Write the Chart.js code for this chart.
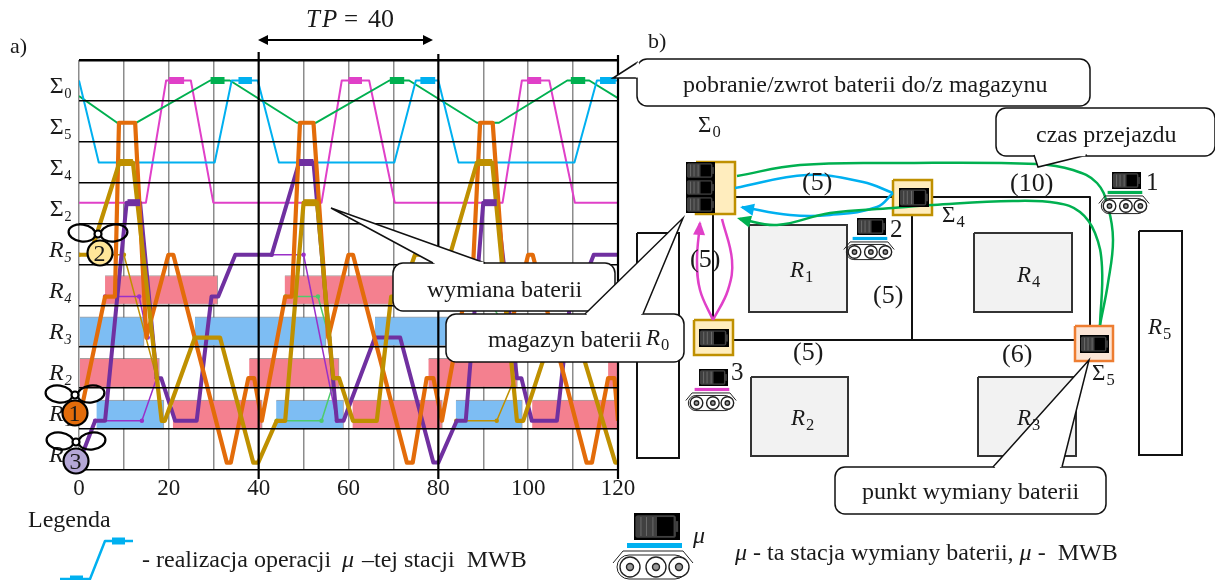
<!DOCTYPE html>
<html>
<head>
<meta charset="utf-8">
<script src="https://cdn.jsdelivr.net/npm/chart.js@4"></script>
<style>
  html, body { margin: 0; background: #fff; }
  #wrap { position: relative; width: 1215px; height: 580px; overflow: hidden; }
  canvas { position: absolute; left: 0; top: 0; }
</style>
</head>
<body>
<div id="wrap">
  <canvas id="mapChart" width="1215" height="580"></canvas>
  <canvas id="timeChart" width="1215" height="580"></canvas>
</div>
<script>
// row levels on the y axis of panel a)
const S0 = 9.5, S5 = 8.47, S4 = 7.5, S2 = 6.52, R5 = 5.25, R4 = 4.23, R3 = 3.23, R2 = 2.24, R1 = 1.2, R0 = 0.18;
const yLabels = ['R₀', 'R₁', 'R₂', 'R₃', 'R₄', 'R₅', 'Σ₂', 'Σ₄', 'Σ₅', 'Σ₀', ''];

// machine occupancy [from, to]
const r4Pink = [[5.8, 30.9], [45.8, 70.9], [85.8, 110.9]];
const r3Blue = [[0, 14.5], [25.8, 55], [65.9, 95], [105.8, 120]];
const r2Pink = [[0, 17.9], [37.9, 57.9], [77.8, 97.6], [117.8, 120]];
const r1Blue = [[3.9, 18.9], [43.9, 58.9], [83.9, 98.7]];
const r1Pink = [[20.9, 40.8], [60.9, 80.9], [100.9, 120]];

// stations (thin lines in the upper rows)
const cyanPath = [[0, S0], [4.4, S4], [30.2, S4], [34, S0], [39.8, S0], [44.5, S4], [70.2, S4], [75, S0], [80, S0], [84.5, S4], [110.3, S4], [115.3, S0], [120, S0]];
const greenPath = [[0, 9.12], [8.5, S5], [12.8, S5], [29.2, S0], [33.6, S0], [48.5, S5], [52.8, S5], [69.1, S0], [73.5, S0], [88.6, S5], [93.5, S5], [108.7, S0], [113.6, S0], [120, 9.07]];
const pinkPath = [[0, S2], [14.9, S2], [19.4, S0], [24.9, S0], [29.9, S2], [54, S2], [58.5, S0], [64.6, S0], [70.3, S2], [94.3, S2], [98.6, S0], [104.7, S0], [110.4, S2], [120, S2]];
const cyanOps = [[35.5, 38.5], [76, 79.3], [116, 119.5]];
const greenOps = [[29.3, 32.4], [69.2, 72.4], [109.5, 112.7]];
const pinkOps = [[20, 23.4], [60, 63], [99.8, 102.9]];

// transport robots (thick lines)
const orangePath = [[0, R1], [5.8, R4], [8, R4], [8.9, S5], [12.5, S5], [15, R3], [19.9, R5], [21, R5], [32.9, R0], [33.8, R0], [37.7, R2], [39, R2], [40.7, R1], [45.9, R4], [47.4, R4], [49.2, S5], [52.2, S5], [55.5, R3], [60, R5], [61, R5], [73, R0], [74.3, R0], [77.4, R2], [78.9, R2], [80.8, R1], [85.9, R4], [87.4, R4], [89.3, S5], [92.1, S5], [95.5, R3], [100, R5], [101, R5], [113, R0], [114.2, R0], [117.8, R2], [119.2, R2], [120, R1]];
const purplePath = [[0, R0], [3.6, R1], [5.8, R1], [10.6, S2], [13.6, S2], [17.3, R2], [18.3, R2], [21.4, R1], [26.2, R1], [29.5, R4], [31, R4], [34.8, R5], [42.9, R5], [49, S4], [52.2, S4], [57.4, R1], [58.9, R1], [65.9, R3], [71.5, R3], [78.9, R0], [80, R0], [84.1, R1], [86.1, R1], [90, S2], [93, S2], [97.5, R2], [98.5, R2], [100.8, R1], [106.4, R1], [109.5, R4], [111, R4], [114.6, R5], [120, R5]];
const goldPath = [[0, R5], [2.5, R5], [9, S4], [12, S4], [18.4, R1], [19.1, R1], [25.8, R3], [31.4, R3], [38.8, R0], [39.9, R0], [44, R1], [45.9, R1], [50, S2], [53, S2], [56.6, R2], [57.9, R2], [61, R1], [66.3, R1], [69.5, R4], [71.5, R4], [74.8, R5], [82.6, R5], [88.6, S4], [92, S4], [97.5, R1], [98.9, R1], [105, R3], [111, R3], [119.4, R0], [120, R0]];
const goldOps = [[9, 12, S4], [50, 53, S2], [88.6, 92, S4]];
const purpleOps = [[10.8, 13.6, S2], [49, 52.2, S4], [90, 93, S2]];

// thin task lines between the machines
const thinPurple = [
  [[5.8, R4], [13.4, R4], [15.3, R3]],
  [[3.6, R1], [14, R1], [17.3, R2]],
  [[42.9, R5], [50, R5], [57.4, R1]]
];
const thinGreen = [
  [[46, R4], [53.2, R4], [55.7, R3]],
  [[44, R1], [54, R1], [57, R2]],
  [[86, R4], [91, R4], [96, R3]]
];
const thinGold = [
  [[0, R5], [10, R5], [17.3, R2]],
  [[84, R1], [93, R1], [97, R2]]
];

const xTicksEvery = 10;

// panel b), in picture units
const roomBoxes = [[749, 225, 847, 312], [751, 377, 848, 456], [978, 377, 1076, 456], [974, 233, 1072, 312]];
const emptyBoxes = [[637, 233, 679, 458], [1139, 231, 1182, 455]];
const stationBoxes = [[696, 162, 735, 214], [893, 180, 932, 215], [694, 320, 733, 355]];
const swapBox = [1075, 326, 1113, 361];
const trackLines = [
  [[735, 197], [1090, 197], [1090, 326]],
  [[713, 214], [713, 320]],
  [[733, 340], [1075, 340]],
  [[912, 197], [912, 340]]
];
const greenRoutes = [
  [[737, 176], [800, 165], [900, 163], [1037, 164], [1073, 170], [1097, 183], [1108, 207], [1113, 240], [1108, 283], [1100, 325]],
  [[1100, 325], [1102, 267], [1095, 233], [1080, 212], [1057, 203], [1013, 201], [933, 205], [893, 208], [830, 213], [777, 225], [740, 219]]
];
const cyanRoutes = [
  [[735, 188], [807, 175], [863, 182], [893, 193]],
  [[893, 193], [877, 207], [830, 215], [790, 215], [742, 207]]
];
const pinkRoutes = [
  [[713, 320], [700, 290], [697, 260], [700, 223]],
  [[722, 219], [732, 260], [728, 290], [713, 320]]
];
const legendRoute = [[60, 579], [90, 579], [105, 541], [133, 541]];
const legendOps = [[[70, 579], [83, 579]], [[112, 541], [125, 541]]];

const serif = '"Liberation Serif", serif';
const cyan = '#00B0F0', green = '#00B050', pink = '#E040C8';
const orange = '#E36C0A', purple = '#7030A0', gold = '#BF9000';

const pts = a => a.map(p => ({ x: p[0], y: p[1] }));
const line = (data, color, width, order, extra) => Object.assign({
  type: 'line', data: pts(data), borderColor: color, backgroundColor: color,
  borderWidth: width, order: order, pointRadius: 0, tension: 0,
  borderJoinStyle: 'round', fill: false
}, extra || {});
const bar = (spans, center, color) => ({
  type: 'bar', indexAxis: 'y', grouped: false, barThickness: 29, order: 60,
  data: spans.map(s => ({ y: center, x: s })),
  backgroundColor: color, borderColor: 'rgba(90,80,80,0.55)', borderWidth: 1
});
const box = (b, fillCol, stroke, width, order) => line(
  [[b[0], b[1]], [b[2], b[1]], [b[2], b[3]], [b[0], b[3]], [b[0], b[1]]], stroke, width, order,
  { fill: 'shape', backgroundColor: fillCol, borderJoinStyle: 'miter' });

// --- small drawing helpers for the pictograms and call-outs ---
function txt(ctx, s, x, y, size, style) {
  ctx.font = (style ? style + ' ' : '') + size + 'px ' + serif;
  ctx.fillStyle = '#1a1a1a';
  ctx.textAlign = 'left';
  ctx.textBaseline = 'alphabetic';
  ctx.fillText(s, x, y);
  return ctx.measureText(s).width;
}
function subTxt(ctx, main, sub, x, y, size) {
  const w = txt(ctx, main, x, y, size, main === 'Σ' ? '' : 'italic');
  txt(ctx, sub, x + w + 1, y + 5, size * 0.72);
}
function callout(ctx, x0, y0, x1, y1, r, tip, a, b) {
  ctx.save();
  ctx.fillStyle = '#fff';
  ctx.strokeStyle = '#111';
  ctx.lineWidth = 1.5;
  ctx.beginPath();
  ctx.roundRect(x0, y0, x1 - x0, y1 - y0, r);
  ctx.fill();
  ctx.stroke();
  ctx.beginPath();
  ctx.moveTo(a[0], a[1]);
  ctx.lineTo(tip[0], tip[1]);
  ctx.lineTo(b[0], b[1]);
  ctx.closePath();
  ctx.fill();
  ctx.beginPath();
  ctx.moveTo(a[0], a[1]);
  ctx.lineTo(tip[0], tip[1]);
  ctx.lineTo(b[0], b[1]);
  ctx.stroke();
  ctx.strokeStyle = '#fff';
  ctx.lineWidth = 2.5;
  ctx.beginPath();
  const dx = b[0] - a[0], dy = b[1] - a[1];
  ctx.moveTo(a[0] + dx * 0.03, a[1] + dy * 0.03);
  ctx.lineTo(b[0] - dx * 0.03, b[1] - dy * 0.03);
  ctx.stroke();
  ctx.restore();
}
function battery(ctx, x, y, w, h) {
  ctx.fillStyle = '#000';
  ctx.fillRect(x, y, w, h);
  ctx.fillStyle = '#404040';
  ctx.beginPath();
  ctx.roundRect(x + w * 0.03, y + h * 0.08, w * 0.88, h * 0.84, h * 0.1);
  ctx.fill();
  ctx.fillRect(x + w * 0.9, y + h * 0.3, w * 0.06, h * 0.4);
  ctx.fillStyle = '#000';
  ctx.fillRect(x + w * 0.5, y + h * 0.15, w * 0.36, h * 0.7);
  ctx.fillStyle = '#6a6a6a';
  [0.14, 0.26, 0.4].forEach(f => ctx.fillRect(x + w * f, y + h * 0.15, 1, h * 0.7));
}
function agv(ctx, ox, oy, s, color) {
  battery(ctx, ox - 19 * s, oy, 46 * s, 27 * s);
  ctx.fillStyle = color;
  ctx.fillRect(ox - 26 * s, oy + 30 * s, 55 * s, 5 * s);
  ctx.strokeStyle = '#222';
  ctx.lineWidth = 1;
  ctx.beginPath();
  ctx.roundRect(ox - 36 * s, oy + 42 * s, 70 * s, 24 * s, 12 * s);
  ctx.stroke();
  ctx.beginPath();
  ctx.moveTo(ox - 40 * s, oy + 50 * s);
  ctx.lineTo(ox - 30 * s, oy + 38 * s);
  ctx.lineTo(ox + 30 * s, oy + 38 * s);
  ctx.lineTo(ox + 40 * s, oy + 50 * s);
  ctx.stroke();
  [-23, 3, 26].forEach(dx => {
    ctx.fillStyle = '#fff';
    ctx.lineWidth = 1.4;
    ctx.beginPath();
    ctx.arc(ox + dx * s, oy + 54 * s, 10 * s, 0, Math.PI * 2);
    ctx.fill();
    ctx.stroke();
    ctx.fillStyle = '#999';
    ctx.beginPath();
    ctx.arc(ox + dx * s, oy + 54 * s, 3.5 * s, 0, Math.PI * 2);
    ctx.fill();
    ctx.stroke();
  });
}
function drone(ctx, cx, cy, hx, hy, color, label) {
  ctx.strokeStyle = '#000';
  ctx.lineWidth = 2.2;
  [[-16, 0.14], [16, -0.14]].forEach(p => {
    ctx.beginPath();
    ctx.ellipse(hx + p[0], hy - 1, 13.5, 8.5, p[1], 0, Math.PI * 2);
    ctx.stroke();
  });
  ctx.fillStyle = color;
  ctx.beginPath();
  ctx.arc(cx, cy, 12.5, 0, Math.PI * 2);
  ctx.fill();
  ctx.stroke();
  ctx.fillStyle = '#fff';
  ctx.beginPath();
  ctx.arc(hx, hy, 3.5, 0, Math.PI * 2);
  ctx.fill();
  ctx.stroke();
  txt(ctx, label, cx - 6.5, cy + 8, 24);
}
function arrowHead(ctx, tip, from, color, len, half) {
  const a = Math.atan2(tip[1] - from[1], tip[0] - from[0]);
  ctx.fillStyle = color;
  ctx.beginPath();
  ctx.moveTo(tip[0], tip[1]);
  ctx.lineTo(tip[0] - len * Math.cos(a) + half * Math.sin(a), tip[1] - len * Math.sin(a) - half * Math.cos(a));
  ctx.lineTo(tip[0] - len * Math.cos(a) - half * Math.sin(a), tip[1] - len * Math.sin(a) + half * Math.cos(a));
  ctx.closePath();
  ctx.fill();
}

// --- panel b) the layout of the cell, sits below panel a) canvas ---
const mapOverlay = {
  id: 'mapOverlay',
  afterDatasetsDraw(chart) {
    const ctx = chart.ctx;
    ctx.save();
    // arrows at the route ends
    arrowHead(ctx, [737, 218], [752, 222], green, 14, 6);
    arrowHead(ctx, [740, 207], [755, 210], cyan, 14, 6);
    arrowHead(ctx, [700, 221], [699, 236], pink, 14, 6);

    // batteries in the store and stations
    battery(ctx, 686, 162, 29, 17);
    battery(ctx, 686, 179, 29, 17);
    battery(ctx, 686, 196, 29, 17);
    battery(ctx, 899, 188, 30, 19);
    battery(ctx, 699, 329, 30, 18);
    battery(ctx, 1080, 335, 29, 18);

    agv(ctx, 1124, 172, 0.63, green);
    agv(ctx, 869, 218, 0.63, cyan);
    agv(ctx, 711, 369, 0.63, pink);
    agv(ctx, 653, 513, 1, cyan);

    txt(ctx, '1', 1146, 190, 25);
    txt(ctx, '2', 890, 237, 25);
    txt(ctx, '3', 731, 380, 25);
    txt(ctx, '(5)', 802, 190, 26);
    txt(ctx, '(10)', 1010, 191, 26);
    txt(ctx, '(5)', 690, 267, 26);
    txt(ctx, '(5)', 873, 303, 26);
    txt(ctx, '(5)', 793, 360, 26);
    txt(ctx, '(6)', 1002, 362, 26);

    subTxt(ctx, 'R', '1', 790, 277, 23);
    subTxt(ctx, 'R', '2', 791, 425, 23);
    subTxt(ctx, 'R', '4', 1017, 282, 23);
    subTxt(ctx, 'R', '5', 1148, 334, 23);
    subTxt(ctx, 'Σ', '0', 698, 132, 23);
    subTxt(ctx, 'Σ', '4', 942, 222, 23);
    subTxt(ctx, 'Σ', '5', 1092, 380, 23);

    txt(ctx, 'b)', 648, 48, 22);
    txt(ctx, 'μ', 693, 543, 24, 'italic');
    txt(ctx, 'Legenda', 28, 527, 24);
    txt(ctx, '- realizacja operacji', 142, 567, 24);
    txt(ctx, 'μ', 342, 567, 24, 'italic');
    txt(ctx, '–tej stacji  MWB', 362, 567, 24);
    let x = 735;
    x += txt(ctx, 'μ', x, 560, 24, 'italic');
    x += txt(ctx, ' - ta stacja wymiany baterii, ', x, 560, 24);
    x += txt(ctx, 'μ', x, 560, 24, 'italic');
    txt(ctx, ' -  MWB', x, 560, 24);
    ctx.restore();
  }
};

const mapDatasets = [
  ...roomBoxes.map(b => box(b, '#F2F2F2', '#333', 2, 30)),
  ...emptyBoxes.map(b => box(b, '#fff', '#111', 2, 30)),
  ...trackLines.map(t => line(t, '#111', 2, 28)),
  ...stationBoxes.map(b => box(b, '#FFEDBE', gold, 2.5, 26)),
  box(swapBox, '#FBE5D6', '#ED7D31', 2.5, 26),
  ...greenRoutes.map(r => line(r, green, 2.5, 10, { tension: 0.4 })),
  ...cyanRoutes.map(r => line(r, cyan, 2.5, 10, { tension: 0.4 })),
  ...pinkRoutes.map(r => line(r, pink, 2.5, 10, { tension: 0.4 })),
  line(legendRoute, cyan, 2.5, 10),
  ...legendOps.map(o => line(o, cyan, 7, 9))
];

new Chart(document.getElementById('mapChart'), {
  type: 'line',
  data: { datasets: mapDatasets },
  options: {
    responsive: false,
    animation: false,
    layout: { padding: 0 },
    plugins: { legend: { display: false }, tooltip: { enabled: false } },
    scales: {
      x: { type: 'linear', min: 0, max: 1215, display: false },
      y: { type: 'linear', min: 0, max: 580, reverse: true, display: false }
    }
  },
  plugins: [mapOverlay]
});

// --- panel a) the time chart, top canvas with the call-outs ---
const timeOverlay = {
  id: 'timeOverlay',
  afterDatasetsDraw(chart) {
    const ctx = chart.ctx;
    const xs = chart.scales.x;
    ctx.save();
    ctx.strokeStyle = '#000';
    ctx.lineWidth = 2.2;
    [[40, 52], [80, 54], [120, 55]].forEach(v => {
      ctx.beginPath();
      ctx.moveTo(xs.getPixelForValue(v[0]), v[1]);
      ctx.lineTo(xs.getPixelForValue(v[0]), 479);
      ctx.stroke();
    });
    ctx.restore();
  },
  afterDraw(chart) {
    const ctx = chart.ctx;
    ctx.save();
    drone(ctx, 75, 413, 75, 395, orange, '1');
    drone(ctx, 100, 253, 98, 234, '#FFE699', '2');
    drone(ctx, 76, 461, 76, 442, '#B4A7D6', '3');

    // period arrow
    ctx.strokeStyle = '#000';
    ctx.lineWidth = 2;
    ctx.beginPath();
    ctx.moveTo(262, 40);
    ctx.lineTo(428, 40);
    ctx.stroke();
    arrowHead(ctx, [258, 40], [268, 40], '#000', 10, 5);
    arrowHead(ctx, [433, 40], [423, 40], '#000', 10, 5);
    txt(ctx, 'T', 306, 27, 25, 'italic');
    txt(ctx, 'P', 322, 27, 25, 'italic');
    txt(ctx, '=', 344, 27, 25);
    txt(ctx, '40', 368, 27, 26);
    txt(ctx, 'a)', 10, 53, 22);

    callout(ctx, 637, 59, 1090, 106, 10, [613, 78], [638, 62], [637, 78]);
    txt(ctx, 'pobranie/zwrot baterii do/z magazynu', 683, 92, 24);

    callout(ctx, 996, 108, 1215, 156, 10, [1038, 167], [1034, 155], [1087, 155]);
    txt(ctx, 'czas przejazdu', 1036, 142, 24);

    callout(ctx, 393, 263, 615, 311, 10, [331, 208], [433, 263], [485, 263]);
    txt(ctx, 'wymiana baterii', 427, 297, 24);

    callout(ctx, 446, 314, 684, 362, 10, [683, 218], [585, 314], [643, 314]);
    txt(ctx, 'magazyn baterii', 488, 347, 24);
    subTxt(ctx, 'R', '0', 646, 345, 23);

    callout(ctx, 835, 467, 1106, 514, 10, [1089, 360], [993, 467], [1062, 467]);
    txt(ctx, 'punkt wymiany baterii', 862, 499, 24);
    // label of R3 stays readable over the pointer, as in the source
    subTxt(ctx, 'R', '3', 1017, 425, 23);
    ctx.restore();
  }
};

const timeDatasets = [
  bar(r4Pink, 4.39, '#F4808F'),
  bar(r3Blue, 3.38, '#7DBDF3'),
  bar(r2Pink, 2.37, '#F4808F'),
  bar(r1Blue, 1.35, '#7DBDF3'),
  bar(r1Pink, 1.35, '#F4808F'),
  ...thinPurple.map(p => line(p, '#9A30C8', 1.5, 50, { pointRadius: 1.5 })),
  ...thinGreen.map(p => line(p, '#4FCB6B', 1.5, 50, { pointRadius: 1.5 })),
  ...thinGold.map(p => line(p, gold, 1.5, 50, { pointRadius: 1.5 })),
  line(cyanPath, cyan, 2, 40),
  line(greenPath, green, 2, 40),
  line(pinkPath, pink, 2, 40),
  ...cyanOps.map(o => line([[o[0], S0], [o[1], S0]], cyan, 7, 39)),
  ...greenOps.map(o => line([[o[0], S0], [o[1], S0]], green, 7, 39)),
  ...pinkOps.map(o => line([[o[0], S0], [o[1], S0]], pink, 7, 39)),
  line(purplePath, purple, 4, 30),
  line(orangePath, orange, 4.2, 25),
  line(goldPath, gold, 4.2, 20),
  ...purpleOps.map(o => line([[o[0], o[2]], [o[1], o[2]]], purple, 7, 18)),
  ...goldOps.map(o => line([[o[0], o[2]], [o[1], o[2]]], gold, 7, 18))
];

new Chart(document.getElementById('timeChart'), {
  type: 'line',
  data: { datasets: timeDatasets },
  options: {
    responsive: false,
    animation: false,
    layout: { padding: { left: 0, top: 60, right: 597, bottom: 0 } },
    plugins: { legend: { display: false }, tooltip: { enabled: false } },
    scales: {
      x: {
        type: 'linear', min: 0, max: 120, offset: false,
        afterFit: s => { s.height = 110; },
        border: { display: false },
        grid: {
          offset: false, drawTicks: false,
          color: c => (c.tick.value > 0 && c.tick.value % 40 === 0 ? 'transparent' : '#8c8c8c'),
          lineWidth: 1.5
        },
        ticks: {
          stepSize: xTicksEvery, autoSkip: false, maxRotation: 0, padding: 5,
          color: '#1a1a1a', font: { family: serif, size: 23 },
          callback: v => (v % 20 === 0 ? v : '')
        }
      },
      y: {
        type: 'linear', min: 0, max: 10, offset: false,
        afterFit: s => { s.width = 79; },
        border: { display: false },
        grid: {
          offset: false, drawTicks: false, z: 1,
          color: '#000',
          lineWidth: c => (c.tick.value === 10 ? 2.5 : 1.5)
        },
        ticks: {
          stepSize: 1, autoSkip: false, padding: 7, labelOffset: -14,
          color: '#1a1a1a',
          font: c => ({ family: serif, size: 24, style: c.tick && c.tick.value < 6 ? 'italic' : 'normal' }),
          callback: v => yLabels[v]
        }
      }
    }
  },
  plugins: [timeOverlay]
});
</script>
</body>
</html>
